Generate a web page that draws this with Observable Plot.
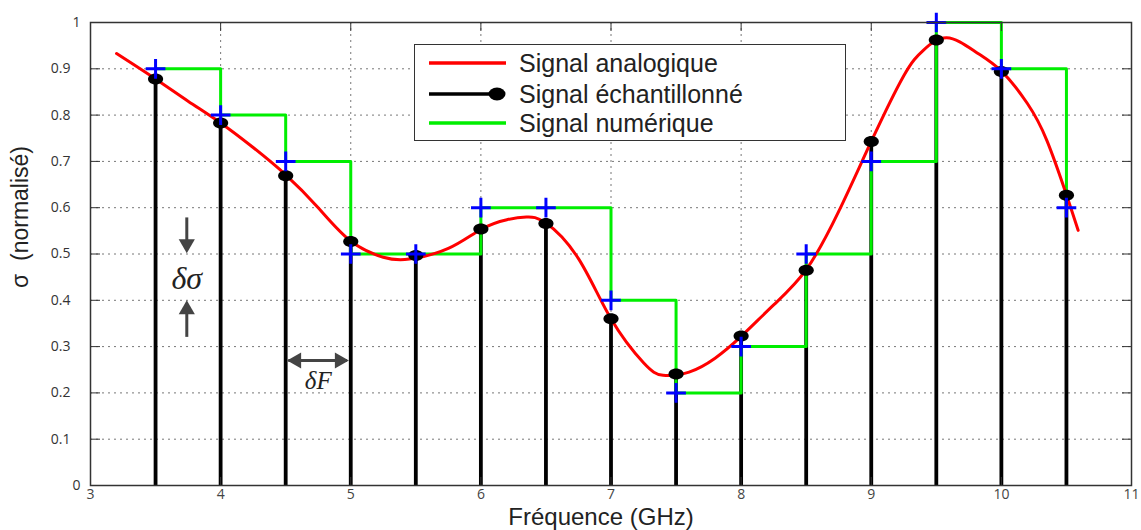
<!DOCTYPE html>
<html>
<head>
<meta charset="utf-8">
<script src="https://cdn.jsdelivr.net/npm/d3@7"></script>
<script src="https://cdn.jsdelivr.net/npm/@observablehq/plot@0.6"></script>
<style>
  body { margin: 0; background: #fff; }
  #wrap { position: relative; width: 1141px; height: 530px; }
  #legend { position: absolute; left: 414px; top: 44px; width: 432px; height: 97px;
    border: 1.5px solid #333; background: #fff; box-sizing: border-box;
    font-family: "Liberation Sans", Arial, sans-serif; font-size: 25px; color: #222; }
  .row { position: absolute; left: 0; height: 28px; width: 100%; }
  .row svg { position: absolute; left: 12px; top: 0; }
  .row span { position: absolute; left: 104px; top: 0; line-height: 28px; white-space: nowrap; }
</style>
</head>
<body>
<div id="wrap"><div id="chart"></div><div id="legend"></div></div>
<script>
// ---- data ----
const sampleFreq = [3.5, 4, 4.5, 5, 5.5, 6, 6.5, 7, 7.5, 8, 8.5, 9, 9.5, 10, 10.5];
const sampledValues = [0.878, 0.783, 0.669, 0.527, 0.497, 0.554, 0.566, 0.360, 0.241, 0.323, 0.465, 0.743, 0.962, 0.894, 0.627];
const quantizedValues = [0.9, 0.8, 0.7, 0.5, 0.5, 0.6, 0.6, 0.4, 0.2, 0.3, 0.5, 0.7, 1.0, 0.9, 0.6];

const analogFreq = [3.2, 3.5, 3.75, 4.0, 4.25, 4.5, 4.75, 5.0, 5.25, 5.45, 5.75, 6.0, 6.2, 6.35, 6.5, 6.75, 7.0, 7.25, 7.4, 7.6, 7.8, 8.0, 8.25, 8.5, 8.75, 9.0, 9.25, 9.4, 9.58, 9.8, 10.0, 10.2, 10.35, 10.5, 10.59];
const analogValues = [0.933, 0.878, 0.83, 0.783, 0.73, 0.671, 0.60, 0.528, 0.493, 0.489, 0.512, 0.553, 0.574, 0.580, 0.567, 0.49, 0.360, 0.265, 0.238, 0.245, 0.275, 0.322, 0.39, 0.466, 0.592, 0.743, 0.885, 0.94, 0.967, 0.937, 0.895, 0.825, 0.745, 0.628, 0.551];

const xTicks = [3, 4, 5, 6, 7, 8, 9, 10, 11];
const yTicks = [0, 0.1, 0.2, 0.3, 0.4, 0.5, 0.6, 0.7, 0.8, 0.9, 1];
const seriesNames = ["Signal analogique", "Signal échantillonné", "Signal numérique"];
const xLabel = "Fréquence (GHz)";
const yLabel = "σ  (normalisé)";

// annotation data (δσ and δF)
const annotTexts = ["δσ", "δF"];
const annotFreq = [3.74, 4.75];
const annotValue = [0.447, 0.225];
const arrowShafts = [
  {f1: 3.74, v1: 0.579, f2: 3.74, v2: 0.53},
  {f1: 3.74, v1: 0.321, f2: 3.74, v2: 0.375},
  {f1: 4.52, v1: 0.27, f2: 4.97, v2: 0.27}
];
const arrowHeads = [
  {f: 3.74, v: 0.522, dir: 180},
  {f: 3.74, v: 0.380, dir: 0},
  {f: 4.583, v: 0.27, dir: -90},
  {f: 4.914, v: 0.27, dir: 90}
];

// ---- styles ----
const RED = "#ff0000", GREEN = "#00ee00", BLUE = "#0000ff", BLACK = "#000000";
const TICK_FONT = "'Open Sans', 'DejaVu Sans', sans-serif";
const LABEL_FONT = "'Liberation Sans', Arial, sans-serif";

const samples = sampleFreq.map((f, i) => ({f, s: sampledValues[i], q: quantizedValues[i]}));
const analog = analogFreq.map((f, i) => ({f, v: analogValues[i]}));
const annots = annotTexts.map((t, i) => ({t, f: annotFreq[i], v: annotValue[i]}));

const ellipse = {
  draw(ctx, size) {
    const r = Math.sqrt(size / Math.PI), rx = r * 1.38, ry = r, k = 0.5523;
    ctx.moveTo(rx, 0);
    ctx.bezierCurveTo(rx, ry * k, rx * k, ry, 0, ry);
    ctx.bezierCurveTo(-rx * k, ry, -rx, ry * k, -rx, 0);
    ctx.bezierCurveTo(-rx, -ry * k, -rx * k, -ry, 0, -ry);
    ctx.bezierCurveTo(rx * k, -ry, rx, -ry * k, rx, 0);
    ctx.closePath();
  }
};

const inner = yTicks.slice(1, -1);
const innerX = xTicks.slice(1, -1);

const chart = Plot.plot({
  width: 1141,
  height: 530,
  marginLeft: 90,
  marginRight: 10,
  marginTop: 22,
  marginBottom: 45,
  x: {domain: [3, 11]},
  y: {domain: [0, 1]},
  style: {fontFamily: TICK_FONT, background: "#fff"},
  marks: [
    Plot.gridX(innerX, {stroke: "#777", strokeOpacity: 1, strokeDasharray: "2,4"}),
    Plot.gridY(inner, {stroke: "#777", strokeOpacity: 1, strokeDasharray: "2,4"}),
    Plot.ruleX(samples, {x: "f", y1: 0, y2: "s", stroke: BLACK, strokeWidth: 3.8}),
    Plot.line(samples, {x: "f", y: "q", curve: "step-after", stroke: GREEN, strokeWidth: 3}),
    Plot.line(analog, {x: "f", y: "v", curve: "natural", stroke: RED, strokeWidth: 3}),
    Plot.dot(samples, {x: "f", y: "s", symbol: ellipse, r: 5.5, fill: BLACK}),
    Plot.dot(samples, {x: "f", y: "q", symbol: "plus", r: 6.4, stroke: BLUE, strokeWidth: 3}),
    // annotations
    Plot.link(arrowShafts, {x1: "f1", y1: "v1", x2: "f2", y2: "v2", stroke: "#444", strokeWidth: 3}),
    Plot.dot(arrowHeads, {x: "f", y: "v", rotate: "dir", symbol: "triangle", r: 6, fill: "#444", stroke: "none"}),
    Plot.text(annots, {x: "f", y: "v", text: "t", fontFamily: "'Liberation Serif', 'DejaVu Serif', serif",
      fontStyle: "italic", fontSize: (d, i) => i === 0 ? 32 : 25, fill: "#222"}),
    // frame and axes
    Plot.frame({stroke: "#333", strokeWidth: 1.5}),
    Plot.axisY(inner, {anchor: "left", tickSize: -10, tickPadding: 30, tickFormat: d => String(d),
      fontSize: 14, color: "#333", label: null}),
    Plot.axisY([0, 1], {anchor: "left", tickSize: 0, tickPadding: 10, tickFormat: d => String(d),
      fontSize: 14, color: "#333", label: null}),
    Plot.axisY(inner, {anchor: "right", tickSize: -10, tickFormat: () => "", color: "#333", label: null}),
    Plot.axisX(innerX, {anchor: "top", tickSize: -8, tickFormat: () => "", color: "#333", label: null}),
    Plot.axisX(innerX, {anchor: "bottom", tickSize: -8, tickFormat: () => "", color: "#333", label: null}),
    Plot.axisX(xTicks, {anchor: "bottom", tickSize: 0, tickPadding: 4, tickFormat: d => String(d),
      fontSize: 14, color: "#444", label: null}),
    Plot.text([xLabel], {text: d => d, frameAnchor: "bottom", textAnchor: "middle", lineAnchor: "middle",
      dx: -10, dy: 32, fontSize: 24, fontFamily: LABEL_FONT, fill: "#222"}),
    Plot.text([yLabel], {text: d => d, frameAnchor: "left", textAnchor: "middle", lineAnchor: "middle",
      rotate: -90, dx: -70, dy: -37, fontSize: 23, fontFamily: LABEL_FONT, fill: "#222"})
  ]
});
document.getElementById("chart").appendChild(chart);

// legend (HTML overlay)
const legendColors = [RED, BLACK, GREEN];
const rowTops = [4, 35, 64];
const legend = document.getElementById("legend");
seriesNames.forEach((name, i) => {
  const row = document.createElement("div");
  row.className = "row";
  row.style.top = rowTops[i] + "px";
  let sym = `<line x1="2" y1="14" x2="${i === 1 ? 70 : 79}" y2="14" stroke="${legendColors[i]}" stroke-width="3.5"/>`;
  if (i === 1) sym += `<ellipse cx="70" cy="14" rx="8.5" ry="6.5" fill="#000"/>`;
  row.innerHTML = `<svg width="84" height="28">${sym}</svg><span>${name}</span>`;
  legend.appendChild(row);
});
</script>
</body>
</html>
